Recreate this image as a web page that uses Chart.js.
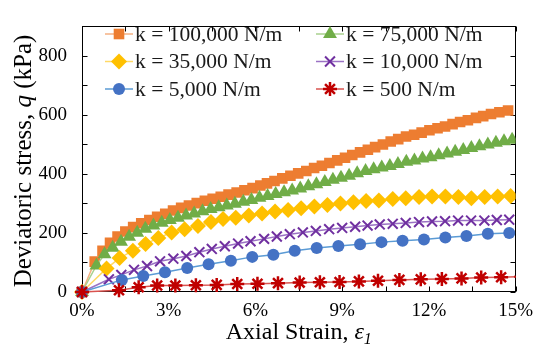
<!DOCTYPE html>
<html>
<head>
<meta charset="utf-8">
<script src="https://cdn.jsdelivr.net/npm/chart.js@4.4.1/dist/chart.umd.min.js"></script>
<style>
  html, body { margin: 0; padding: 0; background: #fff; }
</style>
</head>
<body>
<canvas id="grafica" width="541" height="347"></canvas>
<script>
"use strict";

// textos de la leyenda, en el orden de las series
const etiquetas = ["k = 100,000 N/m", "k = 75,000 N/m", "k = 35,000 N/m",
                   "k = 10,000 N/m", "k = 5,000 N/m", "k = 500 N/m"];

// ticks con texto
const xTicks = [0, 3, 6, 9, 12, 15];
const yTicks = [0, 200, 400, 600, 800];

// k = 100,000 N/m  (deformacion axial %, q en kPa)
const strain100k = [0, 0.44, 0.71, 0.97, 1.23, 1.5, 1.77, 2.05, 2.33, 2.6, 2.88, 3.15, 3.43, 3.7, 3.97,
  4.25, 4.52, 4.8, 5.07, 5.35, 5.62, 5.9, 6.17, 6.4, 6.66, 6.93, 7.21, 7.48, 7.76, 8.03, 8.3, 8.56,
  8.83, 9.1, 9.35, 9.62, 9.89, 10.14, 10.41, 10.68, 10.94, 11.21, 11.49, 11.75, 12.02, 12.3, 12.56,
  12.82, 13.08, 13.35, 13.63, 13.88, 14.15, 14.44, 14.74];
const q100k = [0, 103, 140, 167, 188, 205, 220, 233, 244, 255, 265, 276, 285, 293, 301, 309, 316, 323,
  330, 337, 345, 352, 361, 368, 376, 385, 394, 402, 410, 420, 428, 437, 446, 455, 464, 473, 482, 491,
  500, 510, 518, 527, 533, 540, 548, 555, 561, 569, 576, 582, 590, 596, 603, 609, 615];

// k = 75,000 N/m
const strain75k = [0, 0.5, 0.78, 1.06, 1.35, 1.63, 1.91, 2.19, 2.47, 2.76, 3.04, 3.32, 3.6, 3.88, 4.17,
  4.45, 4.73, 5.01, 5.29, 5.58, 5.86, 6.14, 6.42, 6.7, 6.99, 7.27, 7.55, 7.83, 8.11, 8.4, 8.68, 8.96,
  9.24, 9.52, 9.81, 10.09, 10.37, 10.65, 10.93, 11.22, 11.5, 11.78, 12.06, 12.34, 12.63, 12.91, 13.19,
  13.47, 13.75, 14.04, 14.32, 14.6, 14.88];
const q75k = [0, 90, 128, 150, 170, 187, 201, 214, 225, 235, 244, 252, 259, 266, 274, 281, 287, 293,
  299, 306, 312, 319, 325, 332, 338, 344, 351, 358, 365, 373, 380, 387, 394, 402, 410, 416, 422, 427,
  434, 441, 446, 452, 457, 463, 469, 475, 481, 488, 494, 500, 506, 511, 516];

// k = 35,000 N/m
const strain35k = [0, 0.85, 1.3, 1.76, 2.2, 2.64, 3.1, 3.55, 4.01, 4.46, 4.88, 5.32, 5.77, 6.23, 6.68,
  7.13, 7.58, 8.04, 8.49, 8.94, 9.39, 9.83, 10.27, 10.75, 11.2, 11.66, 12.11, 12.57, 13.02, 13.47,
  13.93, 14.38, 14.83];
const q35k = [0, 80, 115, 140, 163, 183, 202, 213, 224, 237, 247, 252, 259, 266, 273, 278, 284, 290,
  295, 300, 304, 308, 310, 315, 318, 322, 324, 324, 322, 318, 322, 324, 325];

// k = 10,000 N/m
const strain10k = [0, 0.93, 1.36, 1.8, 2.25, 2.7, 3.16, 3.61, 4.06, 4.49, 4.94, 5.4, 5.83, 6.3, 6.74,
  7.19, 7.64, 8.09, 8.55, 9.0, 9.45, 9.88, 10.3, 10.75, 11.2, 11.66, 12.11, 12.56, 13.01, 13.46,
  13.92, 14.35, 14.78];
const q10k = [0, 43, 58, 75, 88, 104, 113, 122, 135, 146, 155, 164, 172, 180, 188, 196, 202, 207, 213,
  217, 221, 225, 229, 231, 234, 237, 239, 240, 242, 242, 242, 244, 245];

// k = 5,000 N/m
const strain5k = [0, 1.38, 2.12, 2.87, 3.64, 4.38, 5.15, 5.89, 6.62, 7.36, 8.12, 8.87, 9.62, 10.36,
  11.09, 11.83, 12.57, 13.3, 14.04, 14.78];
const q5k = [0, 41, 54, 67, 81, 94, 106, 119, 126, 140, 149, 156, 162, 169, 174, 178, 185, 190, 197, 200];

// k = 500 N/m (el ultimo punto queda fuera del eje, solo se ve la linea)
const strain500 = [0, 1.28, 1.96, 2.6, 3.23, 3.94, 4.66, 5.37, 6.07, 6.78, 7.53, 8.23, 8.91, 9.58,
  10.24, 10.98, 11.72, 12.45, 13.13, 13.81, 14.5, 15.2];
const q500 = [0, 6, 16, 22, 22, 23, 24, 27, 28, 30, 32, 33, 34, 36, 38, 41, 43, 44, 46, 49, 50, 52];

const fuente = "Liberation Serif";

function puntos(xs, ys) {
    return xs.map((x, i) => ({ x: x, y: ys[i] }));
}

// estilo de cada serie: marcador y colores
const estilos = [
    { estilo: "rect", radio: 7.5, relleno: "#ED7D31", borde: "#ED7D31", ancho: 0, linea: "#F4B183" },
    { estilo: "triangle", radio: 8, relleno: "#70AD47", borde: "#70AD47", ancho: 0, linea: "#A9D18E" },
    { estilo: "rectRot", radio: 8, relleno: "#FFC000", borde: "#FFC000", ancho: 0, linea: "#FFD966" },
    { estilo: "crossRot", radio: 7, relleno: "#7030A0", borde: "#7030A0", ancho: 2, linea: "#9B72C4" },
    { estilo: "circle", radio: 6, relleno: "#4472C4", borde: "#4472C4", ancho: 0, linea: "#5B9BD5" },
    { estilo: "star", radio: 7, relleno: "#C00000", borde: "#C00000", ancho: 2.5, linea: "#D9534F" }
];

const series = [
    puntos(strain100k, q100k),
    puntos(strain75k, q75k),
    puntos(strain35k, q35k),
    puntos(strain10k, q10k),
    puntos(strain5k, q5k),
    puntos(strain500, q500)
];

const datasets = series.map((datos, i) => {
    const e = estilos[i];
    return {
        label: etiquetas[i],
        data: datos,
        borderColor: e.linea,
        borderWidth: 1.5,
        pointStyle: e.estilo,
        pointRadius: e.radio,
        pointBackgroundColor: e.relleno,
        pointBorderColor: e.borde,
        pointBorderWidth: e.ancho,
        order: 5 - i,
        clip: { left: 12, top: 12, right: 0, bottom: 12 }
    };
});

// marco, ticks hacia adentro y titulos de ejes
const marco = {
    id: "marco",
    beforeDatasetsDraw(chart) {
        const { ctx, chartArea: a, scales } = chart;
        ctx.save();
        ctx.strokeStyle = "#000";
        ctx.lineWidth = 1;
        const l = Math.round(a.left) + 0.5, r = Math.round(a.right) - 0.5;
        const t = Math.round(a.top) + 0.5, b = Math.round(a.bottom) - 0.5;
        ctx.strokeRect(l, t, r - l, b - t);
        ctx.beginPath();
        scales.x.ticks.forEach(tk => {
            const px = Math.round(scales.x.getPixelForValue(tk.value)) + 0.5;
            ctx.moveTo(px, b); ctx.lineTo(px, b - 5);
            ctx.moveTo(px, t); ctx.lineTo(px, t + 5);
        });
        scales.y.ticks.forEach(tk => {
            const py = Math.round(scales.y.getPixelForValue(tk.value)) + 0.5;
            ctx.moveTo(l, py); ctx.lineTo(l + 5, py);
            ctx.moveTo(r, py); ctx.lineTo(r - 5, py);
        });
        ctx.stroke();
        ctx.restore();
    },
    afterDraw(chart) {
        const { ctx, chartArea: a } = chart;
        ctx.save();
        ctx.fillStyle = "#000";
        ctx.textBaseline = "alphabetic";

        // eje x: "Axial Strain, ε1"
        const normal = "24px '" + fuente + "'";
        const italica = "italic 24px '" + fuente + "'";
        const sub = "italic 16px '" + fuente + "'";
        ctx.font = normal; const w1 = ctx.measureText("Axial Strain, ").width;
        ctx.font = italica; const w2 = ctx.measureText("ε").width;
        ctx.font = sub; const w3 = ctx.measureText("1").width;
        let x0 = (a.left + a.right) / 2 - (w1 + w2 + w3) / 2;
        const yb = 339;
        ctx.textAlign = "left";
        ctx.font = normal; ctx.fillText("Axial Strain, ", x0, yb);
        ctx.font = italica; ctx.fillText("ε", x0 + w1, yb);
        ctx.font = sub; ctx.fillText("1", x0 + w1 + w2, yb + 5);

        // eje y: "Deviatoric stress, q (kPa)"
        const n2 = "25px '" + fuente + "'";
        const i2 = "italic 25px '" + fuente + "'";
        ctx.font = n2; const p1 = ctx.measureText("Deviatoric stress, ").width;
        ctx.font = i2; const p2 = ctx.measureText("q").width;
        ctx.font = n2; const p3 = ctx.measureText(" (kPa)").width;
        ctx.translate(31, 161);
        ctx.rotate(-Math.PI / 2);
        let s = -(p1 + p2 + p3) / 2;
        ctx.font = n2; ctx.fillText("Deviatoric stress, ", s, 0);
        ctx.font = i2; ctx.fillText("q", s + p1, 0);
        ctx.font = n2; ctx.fillText(" (kPa)", s + p1 + p2, 0);
        ctx.restore();

        // leyenda en dos columnas dentro del grafico
        ctx.save();
        const colX = [119, 330];
        ctx.font = "21.5px '" + fuente + "'";
        ctx.textBaseline = "middle";
        ctx.textAlign = "left";
        estilos.forEach((e, i) => {
            const cx = colX[i % 2];
            const cy = 34 + Math.floor(i / 2) * 27.5;
            ctx.strokeStyle = e.linea;
            ctx.lineWidth = 1.5;
            ctx.beginPath();
            ctx.moveTo(cx - 14, cy); ctx.lineTo(cx + 14, cy);
            ctx.stroke();
            ctx.fillStyle = e.relleno;
            ctx.strokeStyle = e.borde;
            ctx.lineWidth = e.ancho;
            Chart.helpers.drawPoint(ctx, { pointStyle: e.estilo, rotation: 0, radius: e.radio, borderWidth: e.ancho }, cx, cy);
            ctx.fillStyle = "#1a1a1a";
            ctx.fillText(etiquetas[i], cx + 16, cy + 1);
        });
        ctx.restore();
    }
};

const ctx = document.getElementById("grafica").getContext("2d");
new Chart(ctx, {
    type: "line",
    data: { datasets: datasets },
    options: {
        responsive: false,
        animation: false,
        events: [],
        layout: { padding: { left: 0, right: 17, top: 12, bottom: 0 } },
        plugins: { legend: { display: false }, tooltip: { enabled: false } },
        scales: {
            x: {
                type: "linear",
                min: 0,
                max: 15,
                grid: { display: false, drawTicks: false },
                border: { display: false },
                ticks: {
                    stepSize: 1.5,
                    autoSkip: false,
                    maxRotation: 0,
                    padding: 8,
                    color: "#000",
                    font: { family: fuente, size: 19 },
                    callback: v => xTicks.find(t => Math.abs(t - v) < 1e-6) !== undefined ? Math.round(v) + "%" : ""
                },
                afterFit: s => { s.height = 55; }
            },
            y: {
                type: "linear",
                min: 0,
                max: 900,
                grid: { display: false, drawTicks: false },
                border: { display: false },
                ticks: {
                    stepSize: 100,
                    autoSkip: false,
                    padding: 15,
                    color: "#000",
                    font: { family: fuente, size: 19 },
                    callback: v => yTicks.includes(v) ? String(v) : ""
                },
                afterFit: s => { s.width = 82; }
            }
        }
    },
    plugins: [marco]
});
</script>
</body>
</html>
